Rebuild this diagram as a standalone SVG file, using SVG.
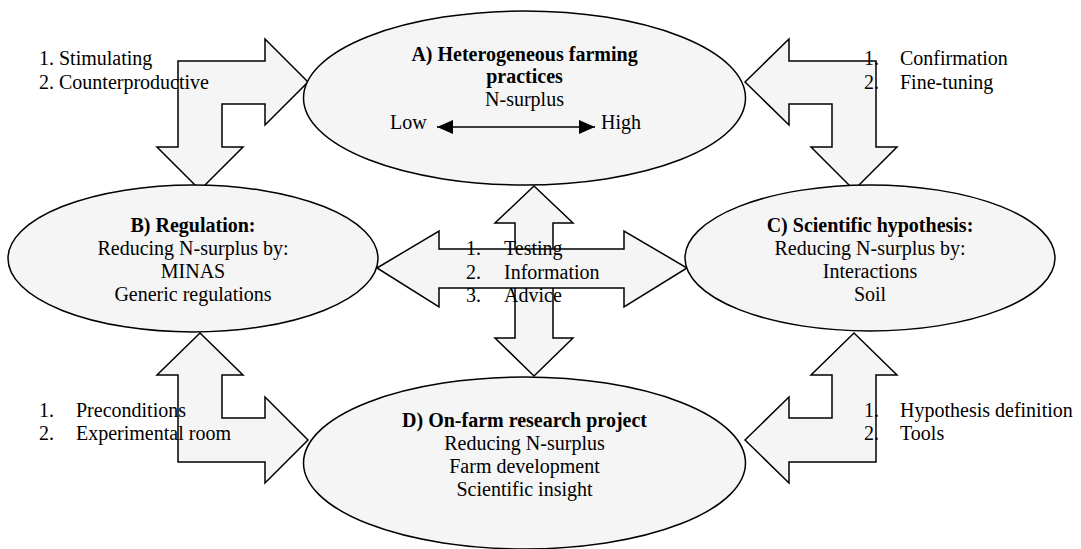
<svg xmlns="http://www.w3.org/2000/svg" width="1081" height="549" viewBox="0 0 1081 549">
<style>
.shape{fill:#f5f5f5;stroke:#000;stroke-width:1.5;stroke-linejoin:miter}
text{font-family:"Liberation Serif","Times New Roman",serif;font-size:20px;fill:#000}
.c{text-anchor:middle}
.b{font-weight:bold}
</style>
<defs>
<marker id="tri" viewBox="0 0 16 14" refX="16" refY="7" markerWidth="16" markerHeight="14" markerUnits="userSpaceOnUse" orient="auto-start-reverse">
<path d="M0,0 L16,7 L0,14 Z" fill="#000"/>
</marker>
</defs>
<rect width="1081" height="549" fill="#fff"/>
<g id="connectors">
<polygon class="shape" points="178,61 265,61 265,39 308,82 265,125 265,104 222,104 222,147 243,147 200,190 157,147 178,147"/>
<polygon class="shape" points="876,61 789,61 789,39 745,82 789,125 789,104 832,104 832,147 811,147 854,190 897,147 876,147"/>
<polygon class="shape" points="200,333 243,375 222,375 222,418 265,418 265,397 308,440 265,483 265,462 178,462 178,375 157,375"/>
<polygon class="shape" points="854,333 897,375 876,375 876,462 789,462 789,483 745,440 789,397 789,418 832,418 832,375 811,375"/>
<polygon class="shape" points="534,186 573,223 553,223 553,338 573,338 534,376 495,338 515,338 515,223 495,223"/>
<polygon class="shape" points="377,268 439,231 439,249 624,249 624,231 687,268 624,307 624,288 439,288 439,307"/>
</g>
<g id="node-a">
<ellipse class="shape" cx="524.5" cy="98" rx="221" ry="87"/>
<text class="c b" x="524.5" y="61">A) Heterogeneous farming</text>
<text class="c b" x="524.5" y="83">practices</text>
<text class="c" x="524.5" y="106">N-surplus</text>
<text x="390" y="129">Low</text>
<text x="601" y="129">High</text>
<line x1="437" y1="127" x2="595" y2="127" stroke="#000" stroke-width="1.5" marker-start="url(#tri)" marker-end="url(#tri)"/>
</g>
<g id="node-b">
<ellipse class="shape" cx="193" cy="258.5" rx="185" ry="73.5"/>
<text class="c b" x="193" y="232">B) Regulation:</text>
<text class="c" x="193" y="255">Reducing N-surplus by:</text>
<text class="c" x="193" y="278">MINAS</text>
<text class="c" x="193" y="301">Generic regulations</text>
</g>
<g id="node-c">
<ellipse class="shape" cx="870" cy="258" rx="185" ry="73"/>
<text class="c b" x="870" y="232">C) Scientific hypothesis:</text>
<text class="c" x="870" y="255">Reducing N-surplus by:</text>
<text class="c" x="870" y="278">Interactions</text>
<text class="c" x="870" y="301">Soil</text>
</g>
<g id="node-d">
<ellipse class="shape" cx="524.5" cy="463" rx="221" ry="86"/>
<text class="c b" x="524.5" y="427">D) On-farm research project</text>
<text class="c" x="524.5" y="450">Reducing N-surplus</text>
<text class="c" x="524.5" y="473">Farm development</text>
<text class="c" x="524.5" y="496">Scientific insight</text>
</g>
<g id="labels">
<text x="39" y="65">1. Stimulating</text>
<text x="39" y="89">2. Counterproductive</text>
<text x="864" y="65">1.</text><text x="900" y="65">Confirmation</text>
<text x="864" y="89">2.</text><text x="900" y="89">Fine-tuning</text>
<text x="39" y="417">1.</text><text x="76" y="417">Preconditions</text>
<text x="39" y="440">2.</text><text x="76" y="440">Experimental room</text>
<text x="864" y="417">1.</text><text x="900" y="417">Hypothesis definition</text>
<text x="864" y="440">2.</text><text x="900" y="440">Tools</text>
<text x="466" y="255">1.</text><text x="504" y="255">Testing</text>
<text x="466" y="279">2.</text><text x="504" y="279">Information</text>
<text x="466" y="302">3.</text><text x="504" y="302">Advice</text>
</g>
</svg>
